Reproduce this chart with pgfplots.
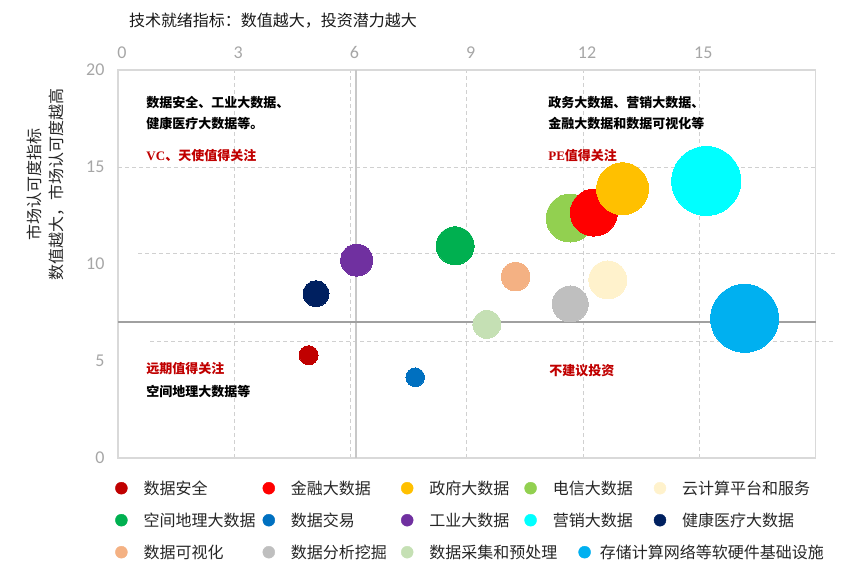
\documentclass[border=0pt]{standalone}
\usepackage{pgfplots}
\pgfplotsset{compat=1.18}
\usepackage{fontspec}
\setmainfont{Carlito}
\newfontfamily\cjk{Noto Sans CJK SC}
\newfontfamily\tnr{Liberation Serif}

\definecolor{boxgray}{HTML}{D9D9D9}
\definecolor{gridgray}{HTML}{D0D0D0}
\definecolor{tickgray}{HTML}{A6A6A6}
\definecolor{quadv}{HTML}{C8C8C8}
\definecolor{quadh}{HTML}{A0A0A0}
\definecolor{note}{HTML}{C00000}
\definecolor{cAnq}{HTML}{C00000}
\definecolor{cJr}{HTML}{FF0000}
\definecolor{cZf}{HTML}{FFC000}
\definecolor{cDx}{HTML}{92D050}
\definecolor{cYun}{HTML}{FFF2CC}
\definecolor{cKj}{HTML}{00B050}
\definecolor{cJy}{HTML}{0070C0}
\definecolor{cGy}{HTML}{7030A0}
\definecolor{cYx}{HTML}{00FFFF}
\definecolor{cJk}{HTML}{002060}
\definecolor{cKsh}{HTML}{F4B183}
\definecolor{cFx}{HTML}{BFBFBF}
\definecolor{cCj}{HTML}{C5E0B4}
\definecolor{cCc}{HTML}{00B0F0}

\pgfplotsset{
  lg/.style={legend image code/.code={\fill[#1] (0pt,0pt) circle (6pt);}},
  bub/.style 2 args={forget plot, only marks, mark=*, mark size=#2,
    mark options={draw=#1, fill=#1, line width=0pt}},
}

\begin{document}
\begin{tikzpicture}
\path[use as bounding box] (-118pt,-112pt) rectangle (725pt,458pt);
\begin{axis}[
  x=38.75pt, y=19.4pt,
  xmin=0, xmax=18, ymin=0, ymax=20,
  xtick={0,3,...,15}, ytick={0,5,...,20},
  xticklabel pos=upper,
  major tick length=0pt,
  axis line style={draw=boxgray, line width=1.5pt},
  xmajorgrids,
  grid style={dash pattern=on 4pt off 3pt, gridgray, line width=0.8pt},
  /pgf/number format/assume math mode=true,
  ticklabel style={font=\fontsize{18}{18}\selectfont, text=tickgray},
  xticklabel style={yshift=8pt, xshift=4pt},
  yticklabel style={xshift=-10pt},
  clip=false,
  legend columns=5,
  legend style={at={(-0.0043,-0.0593)}, anchor=north west,
    draw=none, fill=none, inner sep=0pt, row sep=18pt,
    cells={anchor=west},
    nodes={inner sep=0pt, text height=13pt, text depth=1pt,
      font=\cjk\fontsize{16}{16}\selectfont, text=black!85}},
]
% horizontal dashed guide lines
\draw[dash pattern=on 4pt off 3pt, gridgray, line width=0.8pt]
  (axis cs:0,15) -- (axis cs:18,15);
\draw[dash pattern=on 4pt off 3pt, gridgray, line width=0.8pt]
  (axis cs:0.52,10.57) -- (axis cs:18.5,10.57);
\draw[dash pattern=on 4pt off 3pt, gridgray, line width=0.8pt]
  (axis cs:0.83,6.03) -- (axis cs:18.5,6.03);

% bubbles (x, y) with radius in pt
\addplot[bub={cAnq}{9.5pt}]  coordinates {(4.92,5.30)};
\addplot[bub={cJk}{13pt}]    coordinates {(5.11,8.47)};
\addplot[bub={cGy}{16pt}]    coordinates {(6.16,10.20)};
\addplot[bub={cJy}{9.3pt}]   coordinates {(7.67,4.16)};
\addplot[bub={cKj}{19pt}]    coordinates {(8.70,10.94)};
\addplot[bub={cCj}{14pt}]    coordinates {(9.52,6.89)};
\addplot[bub={cKsh}{14.3pt}] coordinates {(10.26,9.35)};
\addplot[bub={cFx}{18pt}]    coordinates {(11.67,7.94)};
\addplot[bub={cYun}{19pt}]   coordinates {(12.64,9.18)};
\addplot[bub={cCc}{34pt}]    coordinates {(16.17,7.20)};
\addplot[bub={cDx}{24pt}]    coordinates {(11.67,12.37)};
\addplot[bub={cJr}{23.5pt}]  coordinates {(12.28,12.65)};
\addplot[bub={cZf}{26pt}]    coordinates {(13.02,13.88)};
\addplot[bub={cYx}{34.5pt}]  coordinates {(15.18,14.28)};

% quadrant lines
\draw[quadv, line width=1.5pt] (axis cs:6.14,0) -- (axis cs:6.14,20);
\draw[quadh, line width=1.5pt] (axis cs:0,7.0) -- (axis cs:18,7.0);

% quadrant notes
\begin{scope}[every node/.style={anchor=west, inner sep=0pt,
    font=\cjk\bfseries\fontsize{13}{13}\selectfont}]
\node at (axis cs:0.73,18.30) {数据安全、工业大数据、};
\node at (axis cs:0.73,17.22) {健康医疗大数据等。};
\node[text=note] at (axis cs:0.73,15.57) {{\tnr\bfseries VC}、天使值得关注};
\node at (axis cs:11.10,18.30) {政务大数据、营销大数据、};
\node at (axis cs:11.10,17.22) {金融大数据和数据可视化等};
\node[text=note] at (axis cs:11.10,15.57) {{\tnr\bfseries PE}值得关注};
\node[text=note] at (axis cs:0.73,4.59) {远期值得关注};
\node at (axis cs:0.73,3.45) {空间地理大数据等};
\node[text=note] at (axis cs:11.13,4.48) {不建议投资};
\end{scope}

% legend
\addlegendimage{lg=cAnq}\addlegendentry{\makebox[135pt][l]{\hspace*{16pt}数据安全}}
\addlegendimage{lg=cJr}\addlegendentry{\makebox[126pt][l]{\hspace*{16pt}金融大数据}}
\addlegendimage{lg=cZf}\addlegendentry{\makebox[111pt][l]{\hspace*{16pt}政府大数据}}
\addlegendimage{lg=cDx}\addlegendentry{\makebox[117pt][l]{\hspace*{16pt}电信大数据}}
\addlegendimage{lg=cYun}\addlegendentry{\hspace*{16pt}云计算平台和服务}
\addlegendimage{lg=cKj}\addlegendentry{\makebox[135pt][l]{\hspace*{16pt}空间地理大数据}}
\addlegendimage{lg=cJy}\addlegendentry{\makebox[126pt][l]{\hspace*{16pt}数据交易}}
\addlegendimage{lg=cGy}\addlegendentry{\makebox[111pt][l]{\hspace*{16pt}工业大数据}}
\addlegendimage{lg=cYx}\addlegendentry{\makebox[117pt][l]{\hspace*{16pt}营销大数据}}
\addlegendimage{lg=cJk}\addlegendentry{\hspace*{16pt}健康医疗大数据}
\addlegendimage{lg=cKsh}\addlegendentry{\makebox[135pt][l]{\hspace*{16pt}数据可视化}}
\addlegendimage{lg=cFx}\addlegendentry{\makebox[126pt][l]{\hspace*{16pt}数据分析挖掘}}
\addlegendimage{lg=cCj}\addlegendentry{\makebox[111pt][l]{\hspace*{16pt}数据采集和预处理}}
\addlegendimage{legend image code/.code={%
    \fill[cCc, overlay] (54pt,0pt) circle (6pt);}}
\addlegendentry{\makebox[117pt][l]{\hspace*{63pt}存储计算网络等软硬件基础设施}}
\end{axis}

% title and y label
\node[font=\cjk\fontsize{16}{16}\selectfont, text=black!90] at (155pt,437pt)
  {技术就绪指标：数值越大，投资潜力越大};
\node[font=\cjk\fontsize{16}{22}\selectfont, rotate=90, align=center,
  text=black!85] at (-72pt,273pt)
  {市场认可度指标\\数值越大，市场认可度越高};
\end{tikzpicture}
\end{document}
